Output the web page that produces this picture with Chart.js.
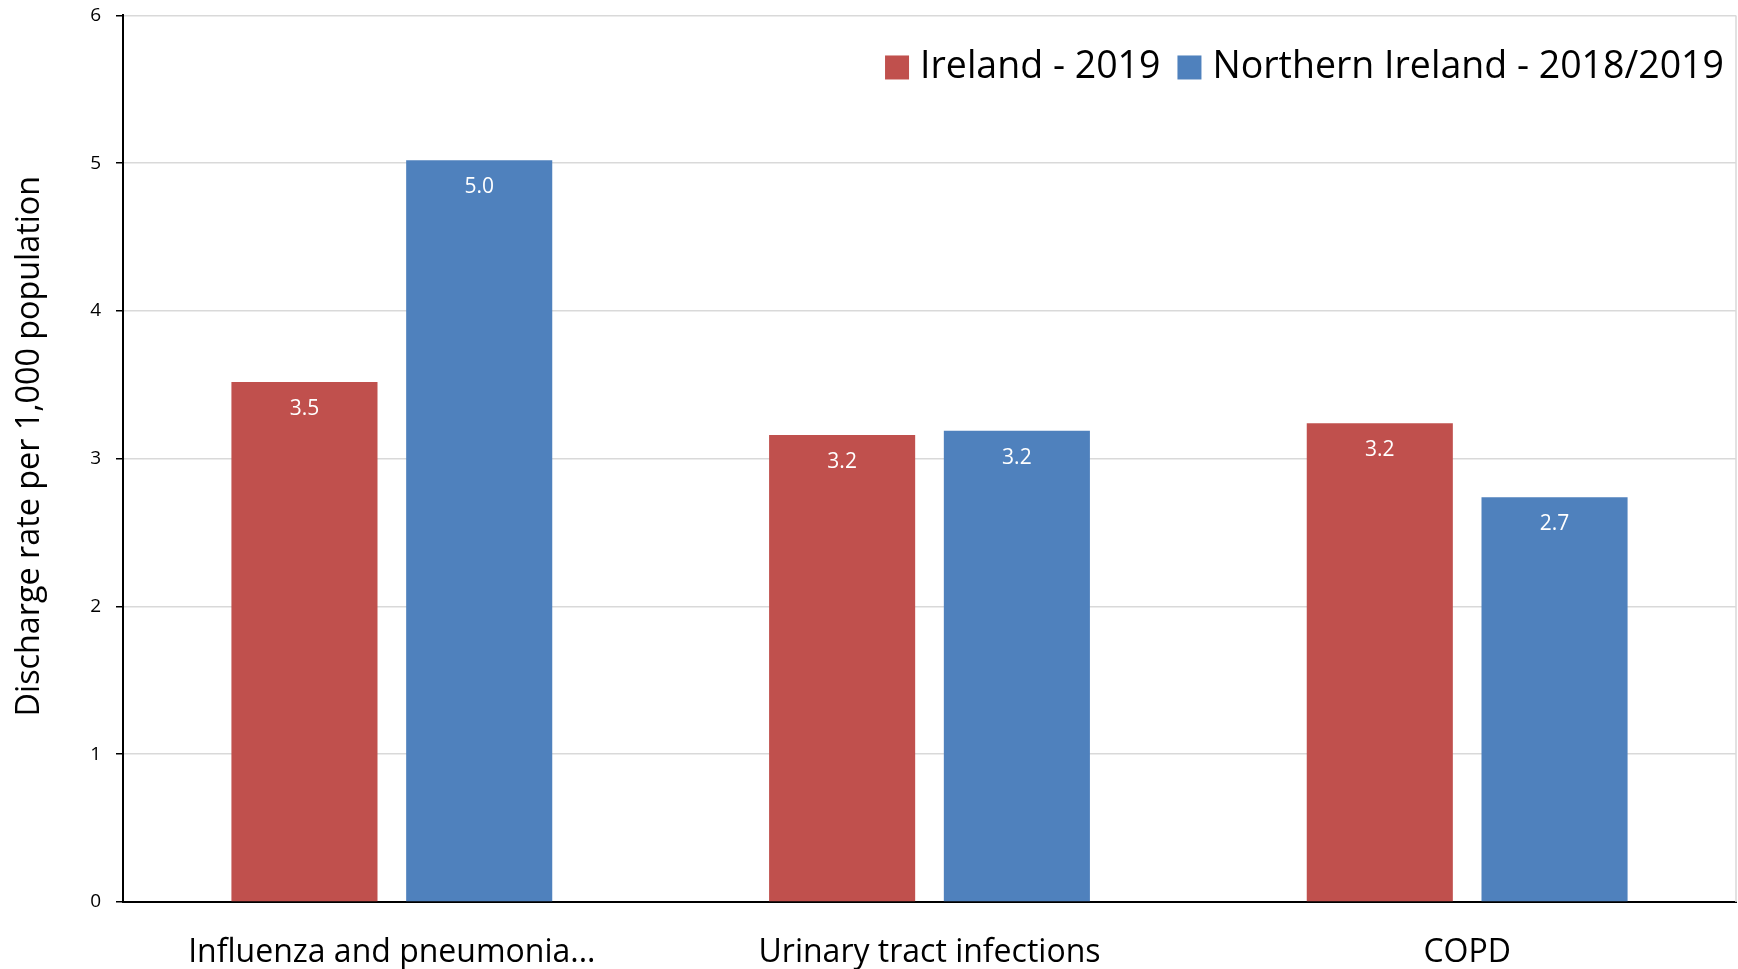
<!DOCTYPE html>
<html>
<head>
<meta charset="utf-8">
<script src="https://cdn.jsdelivr.net/npm/chart.js@4.4.1/dist/chart.umd.min.js"></script>
<style>
  html, body { margin: 0; padding: 0; background: #fff; }
  #wrap { width: 1738px; height: 969px; position: relative; }
</style>
</head>
<body>
<div id="wrap"><canvas id="chart"></canvas></div>
<script>
const categories = ['Influenza and pneumonia...', 'Urinary tract infections', 'COPD'];
const seriesNames = ['Ireland - 2019', 'Northern Ireland - 2018/2019'];
const ireland2019 = [3.52, 3.16, 3.24];
const northernIreland = [5.02, 3.19, 2.74];
const yTicks = [0, 1, 2, 3, 4, 5, 6];

Chart.defaults.font.family = "'Open Sans', sans-serif";
Chart.defaults.color = '#000';

// white value labels just under the top of each bar
const valueLabels = {
  id: 'valueLabels',
  afterDatasetsDraw(chart) {
    const ctx = chart.ctx;
    ctx.save();
    ctx.font = "21px 'Open Sans', sans-serif";
    ctx.fillStyle = '#fff';
    ctx.textAlign = 'center';
    ctx.textBaseline = 'middle';
    chart.data.datasets.forEach((ds, i) => {
      chart.getDatasetMeta(i).data.forEach((bar, j) => {
        ctx.fillText(ds.data[j].toFixed(1), bar.x, bar.y + 27);
      });
    });
    ctx.restore();
  }
};

// grey frame line on the right of the plot area
const rightEdge = {
  id: 'rightEdge',
  beforeDatasetsDraw(chart) {
    const { ctx, chartArea: a } = chart;
    ctx.save();
    ctx.strokeStyle = '#D9D9D9';
    ctx.lineWidth = 1.5;
    ctx.beginPath();
    ctx.moveTo(a.right, a.top);
    ctx.lineTo(a.right, a.bottom);
    ctx.stroke();
    ctx.restore();
  }
};

// legend drawn inside the plot, top right, in one row
const insideLegend = {
  id: 'insideLegend',
  afterDraw(chart) {
    const { ctx, chartArea: a } = chart;
    const box = 24, gap = 11, itemGap = 17, cy = a.top + 52;
    ctx.save();
    ctx.font = "37.5px 'Open Sans', sans-serif";
    ctx.textBaseline = 'middle';
    const items = chart.data.datasets.map(ds => ({ text: ds.label, color: ds.backgroundColor, w: ctx.measureText(ds.label).width }));
    const total = items.reduce((s, it) => s + box + gap + it.w, 0) + itemGap * (items.length - 1);
    let x = a.right - 12 - total;
    items.forEach(it => {
      ctx.fillStyle = it.color;
      ctx.fillRect(x, cy - box / 2, box, box);
      x += box + gap;
      ctx.fillStyle = '#000';
      ctx.fillText(it.text, x, cy);
      x += it.w + itemGap;
    });
    ctx.restore();
  }
};

new Chart(document.getElementById('chart').getContext('2d'), {
  type: 'bar',
  data: {
    labels: categories,
    datasets: [
      { label: seriesNames[0], data: ireland2019, backgroundColor: '#C0504D' },
      { label: seriesNames[1], data: northernIreland, backgroundColor: '#4F81BD' }
    ]
  },
  options: {
    responsive: true, maintainAspectRatio: false, animation: false,
    layout: { padding: { left: 0, right: 2, top: 15, bottom: 0 } },
    datasets: { bar: { categoryPercentage: 0.65, barPercentage: 0.836 } },
    plugins: {
      legend: { display: false },
      tooltip: { enabled: false }
    },
    scales: {
      x: {
        grid: { display: false, drawTicks: false },
        border: { display: true, color: '#000', width: 2 },
        ticks: { font: { size: 32 }, padding: 32, maxRotation: 0, autoSkip: false },
        afterFit(s) { s.height = 67; }
      },
      y: {
        min: 0, max: 6,
        afterBuildTicks(s) { s.ticks = yTicks.map(v => ({ value: v })); },
        grid: { color: '#D9D9D9', lineWidth: 1.5, tickColor: '#000', tickLength: 7 },
        border: { display: true, color: '#000', width: 2 },
        ticks: { font: { size: 19, lineHeight: 0.05 }, padding: 15 },
        title: { display: true, text: '   Discharge rate per 1,000 population', font: { size: 32.3 }, padding: { top: 10, bottom: 4 } },
        afterFit(s) { s.width = 123; }
      }
    }
  },
  plugins: [valueLabels, rightEdge, insideLegend]
});
</script>
</body>
</html>
